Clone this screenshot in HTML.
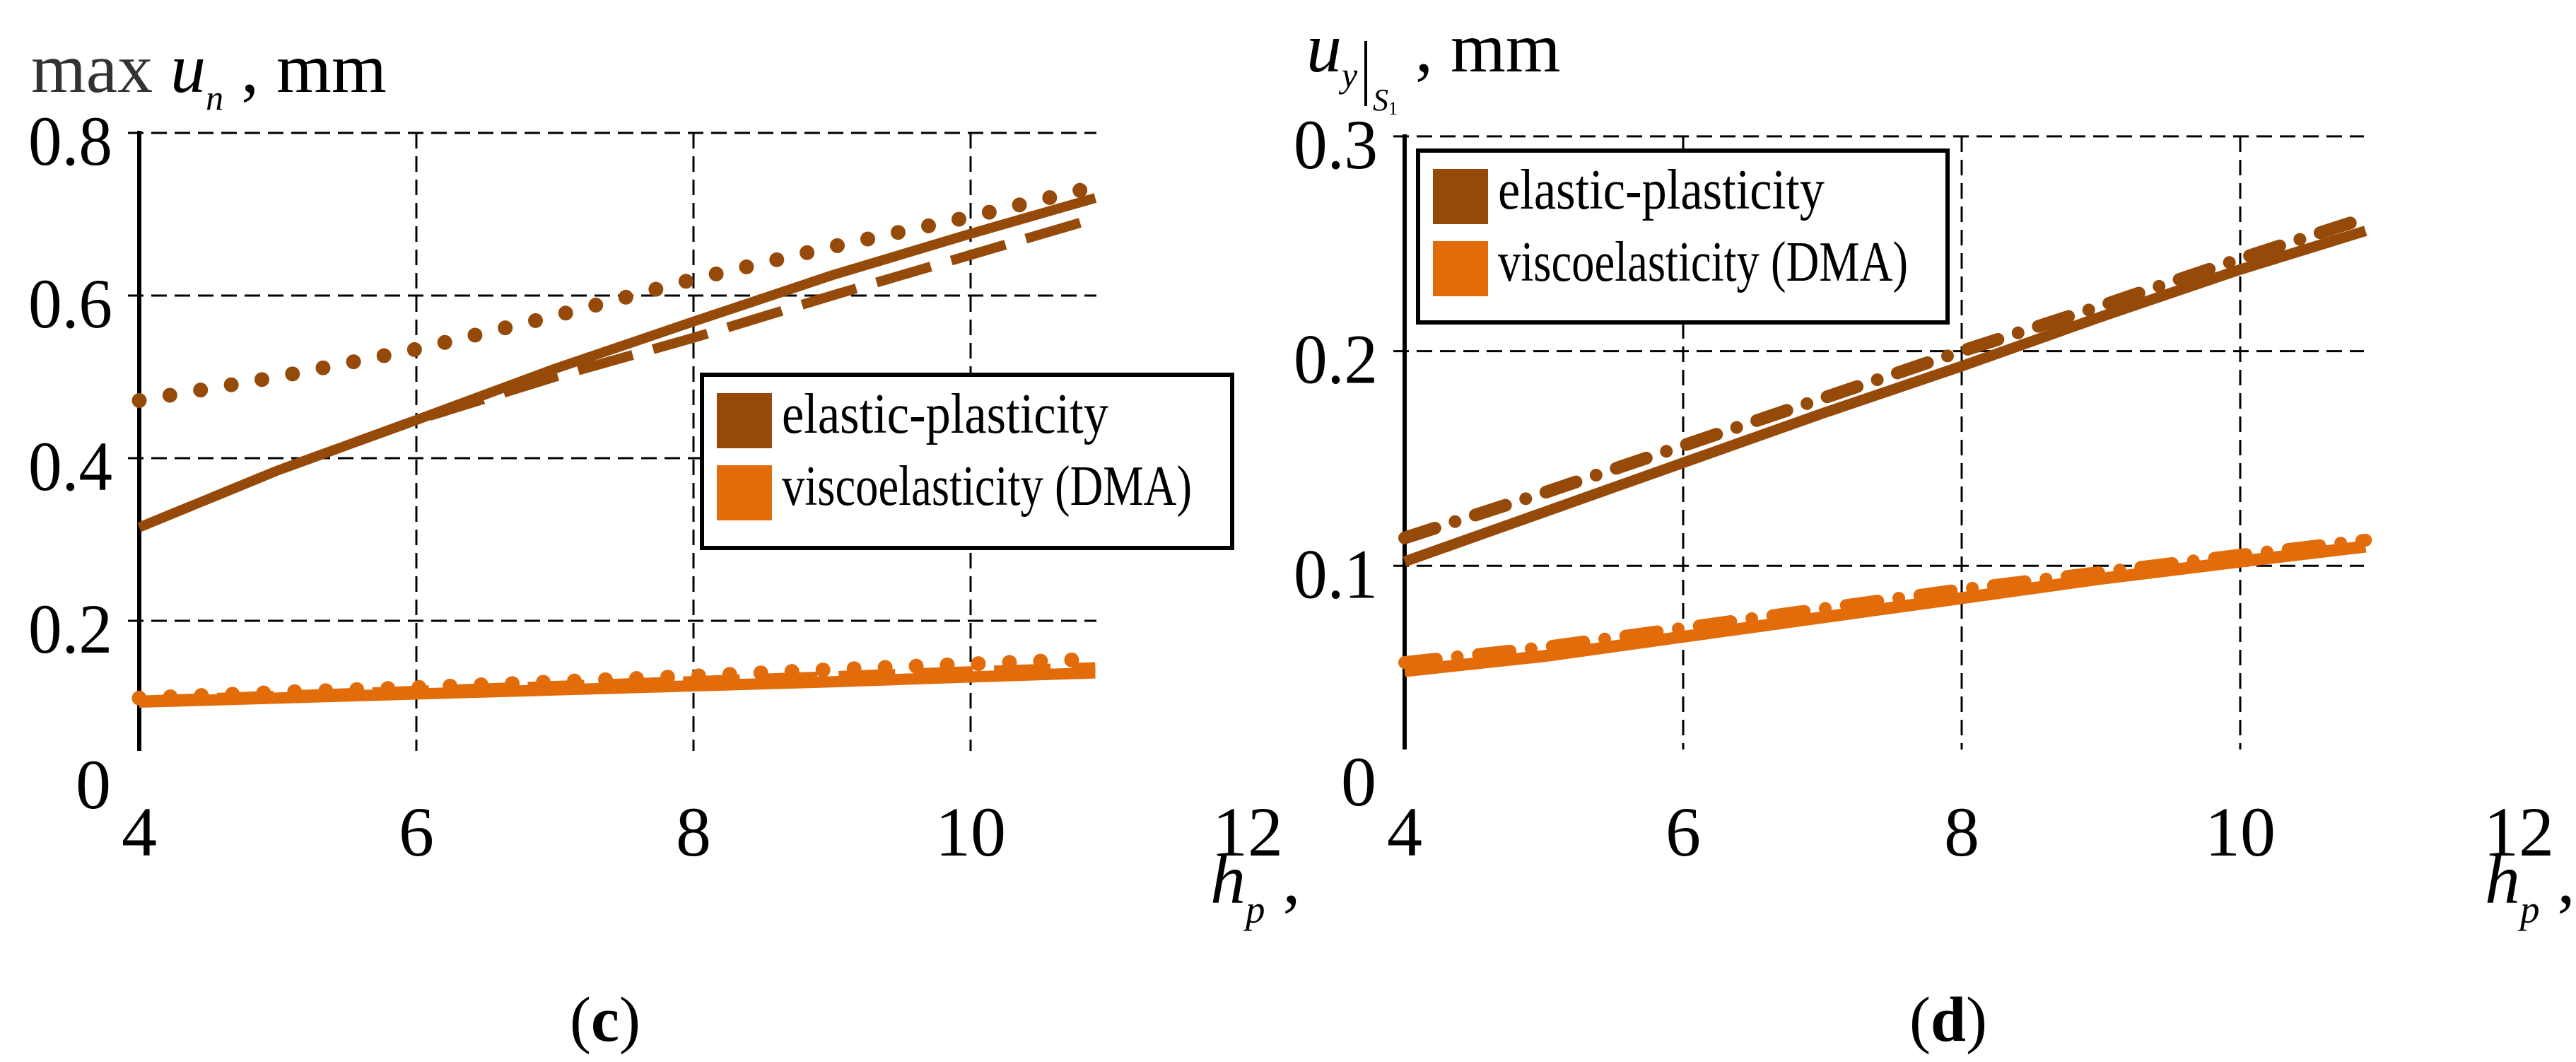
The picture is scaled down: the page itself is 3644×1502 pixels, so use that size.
<!DOCTYPE html>
<html><head><meta charset="utf-8"><style>
html,body{margin:0;padding:0;background:#fff;width:3644px;height:1502px;overflow:hidden}
svg{display:block}
svg text{font-family:"Liberation Serif","DejaVu Serif",serif !important;fill:#000}
</style></head><body>
<svg id="fig" width="3644" height="1502" viewBox="0 0 3644 1502" xmlns="http://www.w3.org/2000/svg" font-family="Liberation Serif, DejaVu Serif, serif">
<g id="pc"></g>
<g id="pd"></g>
</svg>
<script>
// ---- data ----
const xsC = [4,5,6,7,8,9,10,10.9];
const cBrownSolid  = [0.315,0.385,0.447,0.51,0.568,0.625,0.676,0.72];
const cBrownDashed = [0.315,0.385,0.447,0.50,0.548,0.60,0.65,0.695];
const cBrownDotted = [0.471,0.50,0.534,0.575,0.62,0.66,0.697,0.734];
const cOrangeSolid  = [0.100,0.105,0.110,0.115,0.120,0.125,0.131,0.136];
const cOrangeDashed = [0.102,0.108,0.114,0.120,0.126,0.132,0.138,0.143];
const cOrangeDotted = [0.105,0.112,0.118,0.125,0.132,0.140,0.147,0.153];
const cYTicks = [0.8,0.6,0.4,0.2];
const cYTickLabels = ["0.8","0.6","0.4","0.2"];

const xsD = [4,5,6,7,8,9,10,10.9];
const dBrownSolid   = [0.102,0.125,0.148,0.171,0.193,0.216,0.238,0.256];
const dBrownDashDot = [0.113,0.134,0.156,0.178,0.200,0.221,0.243,0.262];
const dOrangeSolid   = [0.051,0.058,0.067,0.076,0.085,0.094,0.102,0.109];
const dOrangeDashDot = [0.055,0.062,0.071,0.080,0.089,0.097,0.105,0.112];
const dYTicks = [0.3,0.2,0.1];
const dYTickLabels = ["0.3","0.2","0.1"];

const xTicks = [4,6,8,10,12];
const xTickLabels = ["4","6","8","10","12"];

const BROWN="#964A0A", ORANGE="#E36C0A";
const NS="http://www.w3.org/2000/svg";
const FF="Liberation Serif, DejaVu Serif, serif";
function mk(parent,tag,attrs,txt){const e=document.createElementNS(NS,tag);for(const k in attrs)e.setAttribute(k,attrs[k]);if(tag==='text')e.setAttribute('font-family',FF);if(txt!==undefined)e.textContent=txt;parent.appendChild(e);return e;}

function panel(g,cfg){
  const X=v=>cfg.x0+(v-4)*cfg.px;
  const Y=v=>cfg.y0-v*cfg.py;
  [6,8,10].forEach(v=>{
    const l=mk(g,'line',{x1:X(v),x2:X(v),y1:cfg.top,y2:cfg.bottom,stroke:'#000','stroke-width':3,'stroke-dasharray':'22 11'});
    
    
  });
  cfg.yTicks.forEach((v,i)=>{
    const l=mk(g,'line',{x1:cfg.x0-16,x2:cfg.xEnd,y1:Y(v),y2:Y(v),stroke:'#000','stroke-width':3,'stroke-dasharray':'22 11'});
    
    
    const t=mk(g,'text',{x:cfg.x0-38,y:Y(v)+45,'font-size':100,'text-anchor':'end',textLength:119,lengthAdjust:'spacingAndGlyphs'},cfg.yTickLabels[i]);
    
    
  });
  const z=mk(g,'text',{x:cfg.x0-40,y:cfg.y0+35,'font-size':100,'text-anchor':'end'},'0');
  
  
  const ax=mk(g,'line',{x1:cfg.x0,x2:cfg.x0,y1:cfg.top-3,y2:cfg.bottom,stroke:'#000','stroke-width':6});
  
  
  xTicks.forEach((v,i)=>{
    const t=mk(g,'text',{x:X(v),y:1210,'font-size':100,'text-anchor':'middle'},xTickLabels[i]);
    
    
  });
  cfg.series.forEach(s=>{
    const d=cfg.xs.map((v,i)=>(i?'L':'M')+X(v).toFixed(1)+' '+Y(s.ys[i]).toFixed(1)).join(' ');
    const p=mk(g,'path',{d:d,fill:'none',stroke:s.c,'stroke-width':s.w,'stroke-linecap':s.cap||'butt','stroke-linejoin':'round','stroke-dasharray':s.dash||'none'});
    
    
  });
  const hl=mk(g,'text',{x:cfg.hx,y:1277,'font-size':100,'font-style':'italic'},'h');
  
  
  mk(hl,'tspan',{'font-size':55,dy:28},'p');
  mk(hl,'tspan',{'font-size':100,dy:-28,'font-style':'normal'},' ,');
  const L=cfg.leg;
  const lg=mk(g,'g',{});
  
  
  mk(lg,'rect',{x:L.x,y:L.y,width:L.w,height:L.h,fill:'#fff',stroke:'#000','stroke-width':6});
  [['elastic-plasticity',BROWN,462],['viscoelasticity (DMA)',ORANGE,580]].forEach((e,i)=>{
    const eg=mk(lg,'g',{});
    
    
    mk(eg,'rect',{x:L.x+21,y:L.y+26+i*102,width:78,height:78,fill:e[1]});
    mk(eg,'text',{x:L.x+113,y:L.y+82+i*102,'font-size':80,textLength:e[2],lengthAdjust:'spacingAndGlyphs'},e[0]);
  });
  const cap=mk(g,'text',{x:cfg.capX,y:1472,'font-size':90,'text-anchor':'middle'},'(');
  
  
  mk(cap,'tspan',{'font-weight':'bold'},cfg.cap);
  mk(cap,'tspan',{},')');
}

panel(document.getElementById('pc'),{
  x0:197,px:196,y0:1108,py:1150,top:188,bottom:1062,xEnd:1551,xs:xsC,
  yTicks:cYTicks,yTickLabels:cYTickLabels,hx:1712,capX:856,cap:'c',
  leg:{x:993,y:530,w:750,h:245},
  series:[
    {name:'brown-dotted-line',ys:cBrownDotted,c:BROWN,w:21,cap:'round',dash:'0 44'},
    {name:'brown-dashed-line',ys:cBrownDashed,c:BROWN,w:14,dash:'80 30'},
    {name:'brown-solid-line',ys:cBrownSolid,c:BROWN,w:14},
    {name:'orange-dotted-line',ys:cOrangeDotted,c:ORANGE,w:21,cap:'round',dash:'0 44'},
    {name:'orange-dashed-line',ys:cOrangeDashed,c:ORANGE,w:14,dash:'80 30'},
    {name:'orange-solid-line',ys:cOrangeSolid,c:ORANGE,w:16}
  ]
});
panel(document.getElementById('pd'),{
  x0:1987,px:197,y0:1104,py:3037,top:193,bottom:1060,xEnd:3344,xs:xsD,
  yTicks:dYTicks,yTickLabels:dYTickLabels,hx:3515,capX:2756,cap:'d',
  leg:{x:2006,y:213,w:749,h:243},
  series:[
    {name:'brown-dashdot-line',ys:dBrownDashDot,c:BROWN,w:18,cap:'round',dash:'45 30 0 30'},
    {name:'brown-solid-line',ys:dBrownSolid,c:BROWN,w:15},
    {name:'orange-dashdot-line',ys:dOrangeDashDot,c:ORANGE,w:18,cap:'round',dash:'45 30 0 30'},
    {name:'orange-solid-line',ys:dOrangeSolid,c:ORANGE,w:17}
  ]
});

const svg=document.getElementById('fig');
const t1=mk(svg,'text',{x:44,y:130,'font-size':100},'');


mk(t1,'tspan',{fill:'#333'},'max ');
mk(t1,'tspan',{'font-style':'italic'},'u');
mk(t1,'tspan',{'font-style':'italic','font-size':50,dy:25},'n');
mk(t1,'tspan',{dy:-25},' , mm');

const t2=mk(svg,'text',{x:1848,y:101,'font-size':100},'');


mk(t2,'tspan',{'font-style':'italic'},'u');
mk(t2,'tspan',{'font-style':'italic','font-size':50,dy:22},'y');
mk(t2,'tspan',{dy:-22,x:2002},', mm');
const bar=mk(svg,'line',{x1:1932,x2:1932,y1:58,y2:150,stroke:'#000','stroke-width':4});


const s1=mk(svg,'text',{x:1942,y:156,'font-size':44,'font-style':'italic'},'S');


mk(s1,'tspan',{'font-size':26,dy:6,'font-style':'normal'},'1');
</script>
</body></html>
